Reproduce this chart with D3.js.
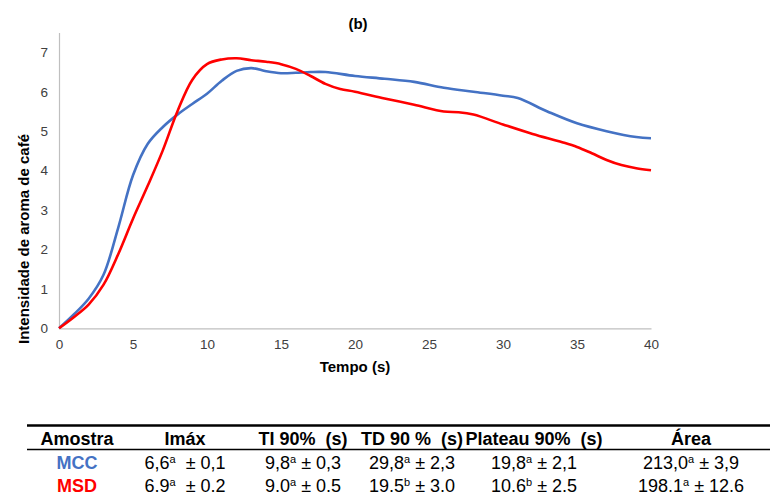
<!DOCTYPE html>
<html>
<head>
<meta charset="utf-8">
<script src="https://cdn.jsdelivr.net/npm/d3@7"></script>
<style>
  body { margin: 0; background: #fff; }
  svg { font-family: "Liberation Sans", Arial, sans-serif; }
</style>
</head>
<body>
<div id="chart"></div>
<script>
var width = 770,
    height = 492;

// curve data
var mccTime  = [0, 1, 2, 3, 4, 5, 6, 7, 8, 9, 10, 11, 12, 13, 14, 15, 16, 17, 18, 20, 22, 24, 26, 28, 30, 31, 33, 35, 37, 39, 40];
var mccValue = [0, 0.35, 0.75, 1.35, 2.55, 3.88, 4.68, 5.1, 5.42, 5.69, 5.95, 6.28, 6.53, 6.6, 6.52, 6.47, 6.48, 6.5, 6.5, 6.4, 6.33, 6.25, 6.1, 6.0, 5.9, 5.84, 5.5, 5.2, 5.0, 4.85, 4.82];

var msdTime  = [0, 1, 2, 3, 4, 5, 6, 7, 8, 9, 10, 11, 12, 13, 14, 15, 16, 17, 18, 19, 20, 22, 24, 26, 27, 28, 30, 32, 34, 35, 36, 37, 38, 39, 40];
var msdValue = [0, 0.28, 0.6, 1.1, 1.88, 2.78, 3.62, 4.5, 5.5, 6.3, 6.7, 6.82, 6.85, 6.8, 6.76, 6.7, 6.58, 6.4, 6.2, 6.07, 6.0, 5.83, 5.67, 5.5, 5.48, 5.42, 5.17, 4.93, 4.72, 4.6, 4.44, 4.27, 4.14, 4.06, 4.01];

var xTicks = [0, 5, 10, 15, 20, 25, 30, 35, 40];
var yTicks = [0, 1, 2, 3, 4, 5, 6, 7];

// table data
var tableHeaders = ["Amostra", "Imáx", "TI 90%  (s)", "TD 90 %  (s)", "Plateau 90%  (s)", "Área"];
var samples = ["MCC", "MSD"];
var imaxMean = ["6,6", "6,9"], imaxSup = ["a", "a"], imaxSd = ["0,1", "0,2"];
var tiMean = ["9,8", "9,0"], tiSup = ["a", "a"], tiSd = ["0,3", "0,5"];
var tdMean = ["29,8", "19,5"], tdSup = ["a", "b"], tdSd = ["2,3", "3,0"];
var platMean = ["19,8", "10,6"], platSup = ["a", "b"], platSd = ["2,1", "2,5"];
var areaMean = ["213,0", "198,1"], areaSup = ["a", "a"], areaSd = ["3,9", "12,6"];

var colors = { MCC: "#4472C4", MSD: "#FF0000" };

var svg = d3.select("#chart")
    .append("svg")
    .attr("width", width)
    .attr("height", height);

svg.append("rect").attr("width", width).attr("height", height).attr("fill", "#fff");

var x = d3.scaleLinear().domain([0, 40]).range([59, 651]);
var y = d3.scaleLinear().domain([0, 7.5]).range([328.3, 32.6]);

// axes
var xAxis = svg.append("g")
    .attr("transform", "translate(0," + y(0) + ")")
    .call(d3.axisBottom(x).tickValues(xTicks).tickSize(0).tickPadding(11));
var yAxis = svg.append("g")
    .attr("transform", "translate(" + x(0) + ",0)")
    .call(d3.axisLeft(y).tickValues(yTicks).tickSize(0).tickPadding(11));

[xAxis, yAxis].forEach(function (g) {
    g.select(".domain").attr("stroke", "#bfbfbf").attr("stroke-width", 1.2);
    g.selectAll("text")
        .attr("fill", "#404040")
        .style("font-size", "13.5px")
        .style("font-family", "Liberation Sans, Arial, sans-serif");
});

// lines
var line = d3.line()
    .x(function (d) { return x(d[0]); })
    .y(function (d) { return y(d[1]); })
    .curve(d3.curveCatmullRom.alpha(0.5));

var series = [
    { name: "MCC", pts: d3.zip(mccTime, mccValue) },
    { name: "MSD", pts: d3.zip(msdTime, msdValue) }
];

svg.append("g")
    .selectAll("path")
    .data(series)
    .enter().append("path")
    .attr("d", function (d) { return line(d.pts); })
    .attr("fill", "none")
    .attr("stroke", function (d) { return colors[d.name]; })
    .attr("stroke-width", 2.6)
    .attr("stroke-linejoin", "round");

// titles
svg.append("text")
    .attr("x", 358).attr("y", 29)
    .attr("text-anchor", "middle")
    .style("font-weight", "bold").style("font-size", "15px")
    .attr("fill", "#000")
    .text("(b)");

svg.append("text")
    .attr("x", 355).attr("y", 372)
    .attr("text-anchor", "middle")
    .style("font-weight", "bold").style("font-size", "15px")
    .attr("fill", "#000")
    .text("Tempo (s)");

svg.append("text")
    .attr("transform", "translate(29,239) rotate(-90)")
    .attr("text-anchor", "middle")
    .style("font-weight", "bold").style("font-size", "15px")
    .attr("fill", "#000")
    .text("Intensidade de aroma de café");

// table
var colX = [77, 185, 303, 412, 534, 691];
var table = svg.append("g");

table.append("line")
    .attr("x1", 27).attr("x2", 770).attr("y1", 425.5).attr("y2", 425.5)
    .attr("stroke", "#000").attr("stroke-width", 2.5);
table.append("line")
    .attr("x1", 27).attr("x2", 770).attr("y1", 449.5).attr("y2", 449.5)
    .attr("stroke", "#000").attr("stroke-width", 1.3);

table.selectAll(".hdr")
    .data(tableHeaders)
    .enter().append("text")
    .attr("class", "hdr")
    .attr("x", function (d, i) { return colX[i]; })
    .attr("y", 445)
    .attr("text-anchor", "middle")
    .style("font-weight", "bold").style("font-size", "18px")
    .style("white-space", "pre")
    .attr("xml:space", "preserve")
    .attr("fill", "#000")
    .text(function (d) { return d; });

var rowY = [468.5, 492];
var cols = [
    [imaxMean, imaxSup, imaxSd, "  "],
    [tiMean, tiSup, tiSd, " "],
    [tdMean, tdSup, tdSd, " "],
    [platMean, platSup, platSd, " "],
    [areaMean, areaSup, areaSd, " "]
];

samples.forEach(function (s, r) {
    table.append("text")
        .attr("x", colX[0]).attr("y", rowY[r])
        .attr("text-anchor", "middle")
        .style("font-weight", "bold").style("font-size", "18px")
        .attr("fill", colors[s])
        .text(s);

    cols.forEach(function (c, j) {
        var t = table.append("text")
            .attr("x", colX[j + 1]).attr("y", rowY[r])
            .attr("text-anchor", "middle")
            .attr("xml:space", "preserve")
            .style("white-space", "pre")
            .style("font-size", "18px")
            .attr("fill", "#000");
        t.append("tspan").text(c[0][r]);
        t.append("tspan").attr("dy", -6).style("font-size", "11px").text(c[1][r]);
        t.append("tspan").attr("dy", 6).text(c[3] + "± " + c[2][r]);
    });
});
</script>
</body>
</html>
